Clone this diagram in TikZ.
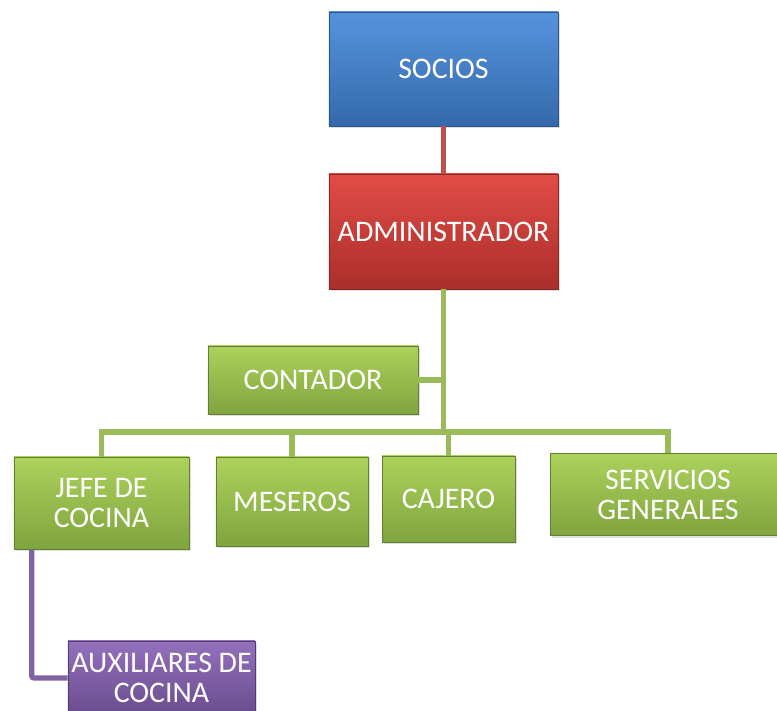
\documentclass[tikz,border=0pt]{standalone}
\usepackage{fontspec}
\setmainfont{Carlito}
\usepackage{tikz}
\usetikzlibrary{positioning, calc, shadows}
\definecolor{bluetop}{RGB}{86,146,220}
\definecolor{bluebot}{RGB}{52,106,172}
\definecolor{blueedge}{RGB}{44,84,136}
\definecolor{redtop}{RGB}{226,76,70}
\definecolor{redbot}{RGB}{170,46,42}
\definecolor{rededge}{RGB}{130,40,38}
\definecolor{grntop}{RGB}{172,210,92}
\definecolor{grnbot}{RGB}{128,164,62}
\definecolor{grnedge}{RGB}{98,126,50}
\definecolor{purtop}{RGB}{148,112,188}
\definecolor{purbot}{RGB}{106,76,142}
\definecolor{puredge}{RGB}{84,60,112}
\definecolor{redlink}{RGB}{192,80,77}
\definecolor{grnlink}{RGB}{155,187,89}
\definecolor{purlink}{RGB}{128,100,162}
\tikzset{
  box/.style={rectangle, align=center, text=white, line width=0.6pt,
    font=\fontsize{25.5}{25.5}\selectfont, inner sep=1pt,
    drop shadow={opacity=0.25, shadow xshift=2pt, shadow yshift=-2pt}},
  bluebox/.style={box, draw=blueedge, top color=bluetop, bottom color=bluebot},
  redbox/.style={box, draw=rededge, top color=redtop, bottom color=redbot},
  grnbox/.style={box, draw=grnedge, top color=grntop, bottom color=grnbot},
  purbox/.style={box, draw=puredge, top color=purtop, bottom color=purbot},
  redline/.style={line width=4.5pt, color=redlink},
  grnline/.style={line width=4.5pt, color=grnlink},
  purline/.style={line width=4.5pt, color=purlink, rounded corners=2pt}
}
\begin{document}
\begin{tikzpicture}[x=0.03cm, y=-0.03cm]
  \useasboundingbox (0,0) rectangle (777,711);
  \coordinate (bus) at (443.5,432);
  \node[bluebox, minimum width=6.87cm, minimum height=3.42cm] (socios) at (443.5,69) {SOCIOS};
  \node[redbox, minimum width=6.87cm, minimum height=3.45cm] (admin) at (443.5,231.5) {ADMINISTRADOR};
  \node[grnbox, minimum width=6.3cm, minimum height=2.04cm] (contador) at (313,380) {CONTADOR};
  \node[grnbox, minimum width=5.25cm, minimum height=2.76cm] (jefe) at (101.5,503) {JEFE DE\\COCINA};
  \node[grnbox, minimum width=4.56cm, minimum height=2.67cm] (meseros) at (292,501.5) {MESEROS};
  \node[grnbox, minimum width=3.99cm, minimum height=2.58cm] (cajero) at (448.5,499) {CAJERO};
  \node[grnbox, minimum width=7.08cm, minimum height=2.46cm] (servicios) at (668,494.5) {SERVICIOS\\GENERALES};
  \node[purbox, minimum width=5.61cm, minimum height=2.22cm] (aux) at (161.5,678) {AUXILIARES DE\\COCINA};

  \draw[redline] (socios) -- (admin);
  \draw[grnline] (admin) -- (bus);
  \draw[grnline] (contador) -- (contador -| bus);
  \draw[grnline] (jefe.north) |- (servicios.north |- bus) -- (servicios.north);
  \draw[grnline] (meseros.north) -- (meseros.north |- bus);
  \draw[grnline] (cajero.north) -- (cajero.north |- bus);
  \draw[purline] ($(jefe.south west)+(18,0)$) |- (aux.west);
\end{tikzpicture}
\end{document}
